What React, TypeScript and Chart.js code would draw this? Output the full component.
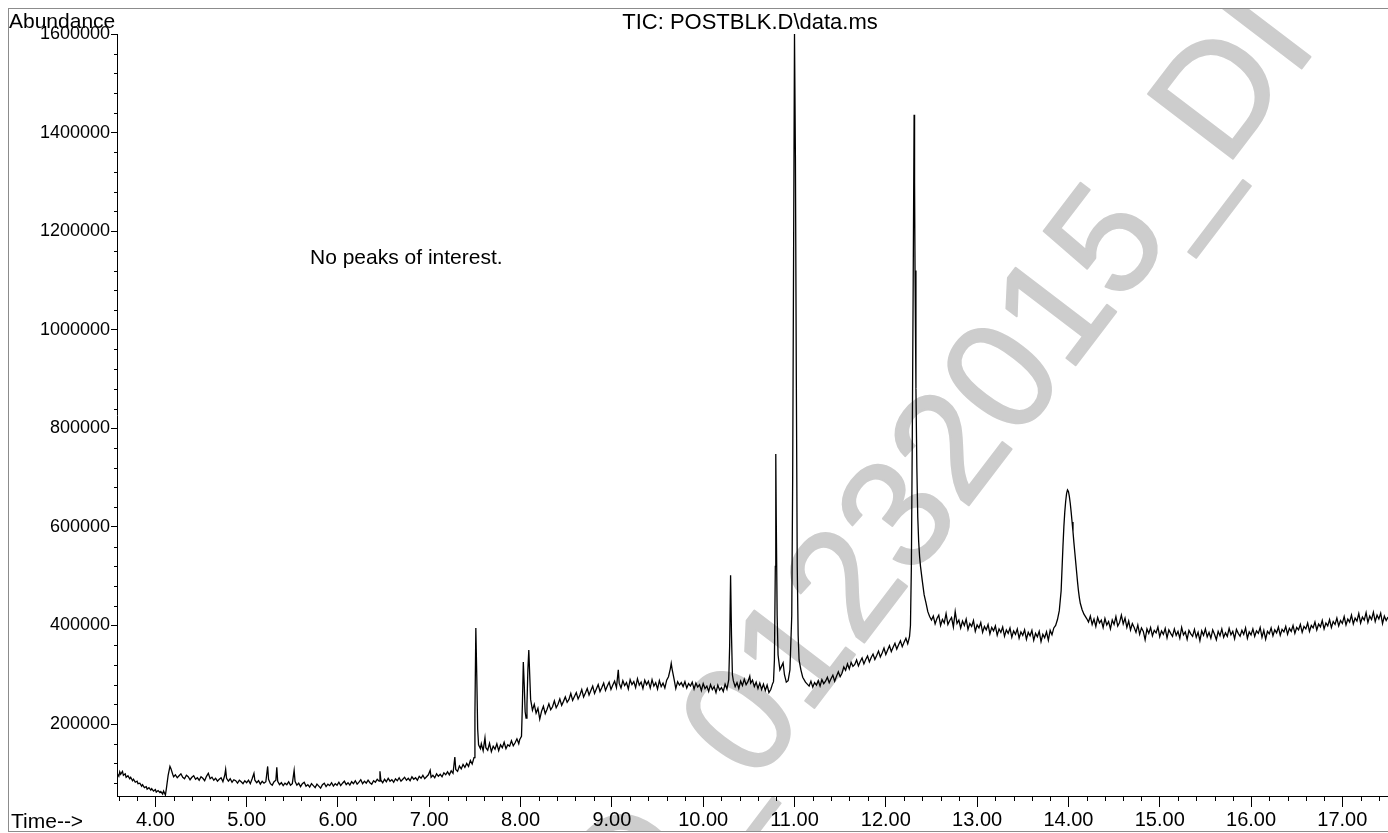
import React, { useEffect, useRef } from "react";
import { Chart, registerables } from "chart.js";

Chart.register(...registerables);

const titleText = "TIC: POSTBLK.D\\data.ms";
const yAxisLabel = "Abundance";
const xAxisLabel = "Time-->";
const noteText = "No peaks of interest.";
const watermarkPrefix = "D_";
const watermarkText = "D_01232015_DI";

const xMajorTicks = [4, 5, 6, 7, 8, 9, 10, 11, 12, 13, 14, 15, 16, 17];
const xMinorTicks = [
  3.6, 3.8, 4.2, 4.4, 4.6, 4.8, 5.2, 5.4, 5.6, 5.8, 6.2, 6.4, 6.6, 6.8, 7.2, 7.4, 7.6, 7.8,
  8.2, 8.4, 8.6, 8.8, 9.2, 9.4, 9.6, 9.8, 10.2, 10.4, 10.6, 10.8, 11.2, 11.4, 11.6, 11.8,
  12.2, 12.4, 12.6, 12.8, 13.2, 13.4, 13.6, 13.8, 14.2, 14.4, 14.6, 14.8, 15.2, 15.4, 15.6, 15.8,
  16.2, 16.4, 16.6, 16.8, 17.2, 17.4,
];
const yMajorTicks = [200000, 400000, 600000, 800000, 1000000, 1200000, 1400000, 1600000];
const yMinorTicks = [
  80000, 120000, 160000, 240000, 280000, 320000, 360000, 440000, 480000, 520000, 560000,
  640000, 680000, 720000, 760000, 840000, 880000, 920000, 960000, 1040000, 1080000, 1120000, 1160000,
  1240000, 1280000, 1320000, 1360000, 1440000, 1480000, 1520000, 1560000,
];

// [retention time (min), abundance]
const segStart: [number, number][] = [
  [3.58, 100000], [3.60, 94000], [3.61, 103000], [3.62, 98000], [3.64, 104000], [3.65, 96000],
  [3.67, 99000], [3.68, 92000], [3.70, 95000], [3.72, 89000], [3.73, 92000], [3.75, 85000],
  [3.76, 88000], [3.78, 82000], [3.80, 84000], [3.81, 79000], [3.83, 80000], [3.85, 74000],
  [3.86, 77000], [3.88, 71000], [3.90, 73000], [3.91, 68000], [3.93, 71000], [3.95, 66000],
  [3.96, 69000], [3.98, 64000], [4.00, 67000], [4.01, 62000], [4.03, 65000], [4.05, 61000],
  [4.06, 63000], [4.08, 58000], [4.09, 64000], [4.11, 56000], [4.12, 68000], [4.14, 96000],
  [4.16, 114000], [4.17, 110000], [4.19, 98000], [4.20, 93000],
];
const segEarly: [number, number][] = [
  [4.22, 97000], [4.24, 91000], [4.26, 95000], [4.28, 99000], [4.30, 92000], [4.32, 89000],
  [4.34, 96000], [4.36, 93000], [4.38, 87000], [4.40, 92000], [4.42, 95000], [4.44, 88000],
  [4.46, 91000], [4.48, 86000], [4.50, 93000], [4.52, 90000], [4.54, 85000], [4.56, 94000],
  [4.58, 100000], [4.60, 89000], [4.62, 92000], [4.64, 86000], [4.66, 90000], [4.68, 84000],
  [4.70, 88000], [4.72, 91000], [4.74, 83000], [4.76, 96000], [4.77, 108000], [4.78, 90000],
  [4.80, 84000], [4.82, 89000], [4.84, 82000], [4.86, 87000], [4.88, 85000], [4.90, 80000],
  [4.92, 86000], [4.94, 83000], [4.96, 79000], [4.98, 85000], [5.00, 81000], [5.02, 86000],
  [5.04, 79000], [5.06, 89000], [5.08, 100000], [5.09, 86000], [5.11, 81000], [5.13, 85000],
  [5.15, 78000], [5.17, 84000], [5.19, 80000], [5.21, 83000], [5.23, 114000], [5.24, 88000],
  [5.26, 79000], [5.28, 76000], [5.30, 83000], [5.32, 86000], [5.33, 112000], [5.34, 84000],
  [5.36, 77000], [5.38, 81000], [5.40, 75000], [5.42, 80000], [5.44, 77000], [5.46, 83000],
  [5.48, 76000], [5.50, 79000], [5.52, 106000], [5.53, 84000], [5.55, 76000], [5.57, 80000],
  [5.59, 73000], [5.61, 79000], [5.63, 82000], [5.65, 74000], [5.67, 77000], [5.69, 72000],
  [5.71, 79000], [5.73, 75000], [5.75, 71000], [5.77, 78000], [5.79, 74000], [5.81, 70000],
  [5.83, 77000], [5.85, 80000], [5.87, 73000], [5.89, 78000], [5.91, 75000], [5.93, 81000],
  [5.95, 74000], [5.97, 79000], [5.99, 76000], [6.01, 82000], [6.03, 75000], [6.05, 80000],
  [6.07, 84000], [6.09, 77000], [6.11, 81000], [6.13, 76000], [6.15, 83000], [6.17, 79000],
  [6.19, 85000], [6.21, 78000], [6.23, 82000], [6.25, 87000], [6.27, 79000], [6.29, 84000],
  [6.31, 80000], [6.33, 86000], [6.35, 81000], [6.37, 78000], [6.39, 85000], [6.41, 82000],
  [6.43, 88000], [6.45, 84000], [6.46, 104000], [6.47, 86000], [6.49, 81000], [6.51, 88000],
  [6.53, 83000], [6.55, 90000], [6.57, 84000], [6.59, 87000], [6.61, 82000], [6.63, 89000],
  [6.65, 85000], [6.67, 91000], [6.69, 84000], [6.71, 88000], [6.73, 92000], [6.75, 86000],
  [6.77, 90000], [6.79, 85000], [6.81, 93000], [6.83, 88000], [6.85, 91000], [6.87, 86000],
  [6.89, 94000], [6.91, 90000], [6.93, 96000], [6.95, 89000], [6.97, 93000], [6.99, 97000],
  [7.01, 106000], [7.02, 92000], [7.04, 96000], [7.06, 91000], [7.08, 99000], [7.10, 94000],
  [7.12, 98000], [7.14, 93000], [7.16, 101000], [7.18, 97000],
];
const seg750: [number, number][] = [
  [7.20, 103000], [7.22, 97000], [7.24, 105000], [7.26, 100000], [7.28, 133000], [7.29, 108000],
  [7.31, 104000], [7.33, 115000], [7.35, 109000], [7.37, 118000], [7.39, 112000], [7.41, 120000],
  [7.43, 114000], [7.45, 126000], [7.47, 119000], [7.49, 132000], [7.50, 220000], [7.51, 395000],
  [7.52, 300000], [7.53, 190000], [7.54, 158000], [7.56, 150000], [7.57, 160000], [7.59, 146000],
  [7.61, 172000], [7.62, 152000], [7.64, 147000], [7.66, 161000], [7.68, 144000], [7.70, 155000],
  [7.72, 149000], [7.74, 160000], [7.76, 146000], [7.78, 158000], [7.80, 152000], [7.82, 163000],
  [7.84, 150000], [7.86, 158000], [7.88, 155000], [7.90, 166000], [7.92, 156000], [7.94, 162000],
  [7.96, 170000], [7.98, 160000], [7.99, 168000],
];
const seg805: [number, number][] = [
  [8.01, 175000], [8.02, 240000], [8.03, 326000], [8.04, 280000], [8.05, 225000], [8.06, 212000],
  [8.07, 240000], [8.08, 310000], [8.09, 350000], [8.10, 300000], [8.11, 250000], [8.13, 228000],
  [8.15, 240000], [8.17, 222000], [8.19, 232000], [8.21, 210000],
];
const segMid: [number, number][] = [
  [8.23, 226000], [8.25, 236000], [8.27, 221000], [8.29, 230000], [8.31, 241000], [8.33, 229000],
  [8.35, 235000], [8.37, 247000], [8.39, 233000], [8.41, 240000], [8.43, 251000], [8.45, 238000],
  [8.47, 246000], [8.49, 255000], [8.51, 244000], [8.53, 250000], [8.55, 262000], [8.57, 248000],
  [8.59, 256000], [8.61, 264000], [8.63, 251000], [8.65, 259000], [8.67, 270000], [8.69, 255000],
  [8.71, 263000], [8.73, 272000], [8.75, 259000], [8.77, 268000], [8.79, 277000], [8.81, 262000],
  [8.83, 271000], [8.85, 280000], [8.87, 266000], [8.89, 274000], [8.91, 283000], [8.93, 268000],
  [8.95, 277000], [8.97, 285000], [8.99, 270000], [9.01, 279000], [9.03, 287000], [9.05, 274000],
  [9.07, 310000], [9.08, 283000], [9.10, 273000], [9.12, 288000], [9.14, 278000], [9.16, 284000],
  [9.18, 271000], [9.20, 290000], [9.22, 280000], [9.24, 286000], [9.26, 274000], [9.28, 292000],
  [9.30, 279000], [9.32, 285000], [9.34, 272000], [9.36, 289000], [9.38, 280000], [9.40, 287000],
  [9.42, 273000], [9.44, 290000], [9.46, 277000], [9.48, 284000], [9.50, 271000], [9.52, 288000],
  [9.54, 276000], [9.56, 283000], [9.58, 273000], [9.60, 289000], [9.62, 296000], [9.64, 312000],
  [9.65, 323000], [9.66, 311000], [9.68, 292000], [9.70, 272000], [9.72, 286000], [9.74, 279000],
  [9.76, 284000], [9.78, 276000], [9.80, 286000], [9.82, 273000], [9.84, 282000], [9.86, 277000],
  [9.88, 285000], [9.90, 271000], [9.92, 283000], [9.94, 275000], [9.96, 280000], [9.98, 268000],
  [10.00, 282000], [10.02, 272000], [10.04, 277000], [10.06, 266000], [10.08, 280000], [10.10, 270000],
  [10.12, 276000], [10.14, 264000], [10.16, 279000], [10.18, 269000], [10.20, 274000], [10.22, 266000],
  [10.24, 281000], [10.26, 271000],
];
const seg1030: [number, number][] = [
  [10.28, 290000], [10.29, 360000], [10.30, 502000], [10.31, 380000], [10.32, 300000], [10.33, 288000],
  [10.35, 276000], [10.37, 284000], [10.39, 272000], [10.41, 287000], [10.43, 278000], [10.45, 291000],
  [10.47, 280000], [10.49, 286000], [10.51, 297000], [10.52, 283000], [10.54, 289000], [10.56, 276000],
  [10.58, 285000], [10.60, 272000], [10.62, 283000], [10.64, 270000], [10.66, 281000], [10.68, 268000],
  [10.70, 279000], [10.72, 264000], [10.74, 270000], [10.76, 282000], [10.77, 286000],
];
const seg1100: [number, number][] = [
  [10.78, 330000], [10.79, 520000], [10.795, 748000], [10.80, 620000], [10.81, 420000], [10.82, 340000],
  [10.84, 310000], [10.86, 318000], [10.875, 324000], [10.89, 300000], [10.91, 285000], [10.93, 288000],
  [10.95, 310000], [10.97, 420000], [10.98, 700000], [10.99, 1150000], [11.00, 1600000], [11.01, 1350000],
  [11.02, 900000], [11.03, 520000], [11.04, 380000], [11.05, 330000], [11.07, 310000], [11.09, 295000],
  [11.12, 285000],
];
const segRise: [number, number][] = [
  [11.14, 281000], [11.16, 277000], [11.18, 287000], [11.20, 275000], [11.22, 284000], [11.24, 279000],
  [11.26, 288000], [11.28, 277000], [11.30, 290000], [11.32, 282000], [11.34, 287000], [11.36, 295000],
  [11.38, 284000], [11.40, 292000], [11.42, 299000], [11.44, 287000], [11.46, 297000], [11.48, 306000],
  [11.50, 296000], [11.52, 303000], [11.54, 316000], [11.56, 309000], [11.58, 322000], [11.60, 312000],
  [11.62, 325000], [11.64, 317000], [11.66, 321000], [11.68, 330000], [11.70, 318000], [11.72, 327000],
  [11.74, 334000], [11.76, 322000], [11.78, 331000], [11.80, 338000], [11.82, 326000], [11.84, 335000],
  [11.86, 342000], [11.88, 331000], [11.90, 339000], [11.92, 348000], [11.94, 336000], [11.96, 344000],
  [11.98, 354000], [12.00, 341000], [12.02, 350000], [12.04, 359000], [12.06, 347000], [12.08, 356000],
  [12.10, 364000], [12.12, 352000], [12.14, 361000], [12.16, 369000], [12.18, 357000], [12.20, 366000],
  [12.22, 374000], [12.24, 363000], [12.25, 370000],
];
const seg1230: [number, number][] = [
  [12.26, 378000], [12.27, 400000], [12.28, 520000], [12.29, 780000], [12.30, 1100000], [12.31, 1436000],
  [12.315, 1300000], [12.32, 1120000], [12.33, 880000], [12.34, 720000], [12.35, 620000], [12.36, 570000],
  [12.37, 540000], [12.38, 520000], [12.40, 490000], [12.42, 462000], [12.44, 446000], [12.46, 428000],
  [12.48, 418000], [12.50, 411000],
];
const segLate: [number, number][] = [
  [12.52, 419000], [12.54, 403000], [12.56, 414000], [12.58, 421000], [12.60, 400000], [12.62, 412000],
  [12.64, 405000], [12.66, 424000], [12.68, 402000], [12.70, 410000], [12.72, 416000], [12.74, 397000],
  [12.76, 428000], [12.78, 404000], [12.80, 411000], [12.82, 395000], [12.84, 409000], [12.86, 400000],
  [12.88, 413000], [12.90, 392000], [12.92, 404000], [12.94, 398000], [12.96, 410000], [12.98, 388000],
  [13.00, 401000], [13.02, 395000], [13.04, 406000], [13.06, 386000], [13.08, 398000], [13.10, 391000],
  [13.12, 402000], [13.14, 383000], [13.16, 396000], [13.18, 389000], [13.20, 399000], [13.22, 380000],
  [13.24, 393000], [13.26, 386000], [13.28, 397000], [13.30, 378000], [13.32, 391000], [13.34, 384000],
  [13.36, 395000], [13.38, 376000], [13.40, 389000], [13.42, 382000], [13.44, 393000], [13.46, 374000],
  [13.48, 387000], [13.50, 380000], [13.52, 391000], [13.54, 372000], [13.56, 386000], [13.58, 379000],
  [13.60, 390000], [13.62, 370000], [13.64, 384000], [13.66, 377000], [13.68, 388000], [13.70, 367000],
  [13.72, 382000], [13.74, 375000], [13.76, 387000], [13.78, 370000], [13.80, 390000], [13.82, 381000],
  [13.84, 395000],
];
const seg1400: [number, number][] = [
  [13.86, 400000], [13.88, 412000], [13.90, 430000], [13.92, 470000], [13.94, 560000], [13.95, 600000],
  [13.96, 630000], [13.97, 652000], [13.98, 668000], [13.99, 675000], [14.00, 672000], [14.01, 662000],
  [14.02, 648000], [14.03, 630000], [14.04, 610000], [14.05, 590000], [14.06, 568000], [14.07, 548000],
  [14.08, 528000], [14.09, 508000], [14.10, 488000], [14.11, 470000], [14.12, 456000], [14.13, 445000],
  [14.15, 432000], [14.17, 423000], [14.20, 414000],
];
const segEnd: [number, number][] = [
  [14.22, 407000], [14.24, 419000], [14.26, 402000], [14.28, 413000], [14.30, 398000], [14.32, 416000],
  [14.34, 405000], [14.36, 411000], [14.38, 396000], [14.40, 414000], [14.42, 401000], [14.44, 408000],
  [14.46, 393000], [14.48, 411000], [14.50, 402000], [14.52, 418000], [14.54, 399000], [14.56, 406000],
  [14.58, 421000], [14.60, 403000], [14.62, 415000], [14.64, 396000], [14.66, 409000], [14.68, 391000],
  [14.70, 404000], [14.72, 396000], [14.74, 386000], [14.76, 401000], [14.78, 382000], [14.80, 395000],
  [14.82, 388000], [14.84, 371000], [14.86, 393000], [14.88, 384000], [14.90, 396000], [14.92, 379000],
  [14.94, 390000], [14.96, 385000], [14.98, 397000], [15.00, 377000], [15.02, 389000], [15.04, 382000],
  [15.06, 394000], [15.08, 375000], [15.10, 391000], [15.12, 384000], [15.14, 378000], [15.16, 393000],
  [15.18, 380000], [15.20, 388000], [15.22, 374000], [15.24, 396000], [15.26, 381000], [15.28, 387000],
  [15.30, 372000], [15.32, 390000], [15.34, 383000], [15.36, 378000], [15.38, 392000], [15.40, 376000],
  [15.42, 386000], [15.44, 369000], [15.46, 389000], [15.48, 380000], [15.50, 393000], [15.52, 377000],
  [15.54, 386000], [15.56, 374000], [15.58, 391000], [15.60, 382000], [15.62, 371000], [15.64, 388000],
  [15.66, 379000], [15.68, 393000], [15.70, 376000], [15.72, 385000], [15.74, 378000], [15.76, 394000],
  [15.78, 381000], [15.80, 388000], [15.82, 373000], [15.84, 392000], [15.86, 384000], [15.88, 378000],
  [15.90, 390000], [15.92, 382000], [15.94, 395000], [15.96, 374000], [15.98, 387000], [16.00, 381000],
  [16.02, 393000], [16.04, 378000], [16.06, 389000], [16.08, 384000], [16.10, 396000], [16.12, 376000],
  [16.14, 390000], [16.16, 372000], [16.18, 388000], [16.20, 383000], [16.22, 395000], [16.24, 379000],
  [16.26, 391000], [16.28, 385000], [16.30, 397000], [16.32, 380000], [16.34, 392000], [16.36, 387000],
  [16.38, 398000], [16.40, 382000], [16.42, 394000], [16.44, 388000], [16.46, 400000], [16.48, 384000],
  [16.50, 396000], [16.52, 391000], [16.54, 402000], [16.56, 386000], [16.58, 398000], [16.60, 393000],
  [16.62, 405000], [16.64, 388000], [16.66, 400000], [16.68, 395000], [16.70, 407000], [16.72, 391000],
  [16.74, 403000], [16.76, 397000], [16.78, 410000], [16.80, 393000], [16.82, 405000], [16.84, 399000],
  [16.86, 412000], [16.88, 396000], [16.90, 408000], [16.92, 402000], [16.94, 415000], [16.96, 399000],
  [16.98, 410000], [17.00, 404000], [17.02, 418000], [17.04, 401000], [17.06, 413000], [17.08, 407000],
  [17.10, 421000], [17.12, 403000], [17.14, 415000], [17.16, 409000], [17.18, 424000], [17.20, 405000],
  [17.22, 417000], [17.24, 411000], [17.26, 426000], [17.28, 406000], [17.30, 419000], [17.32, 412000],
  [17.34, 427000], [17.36, 408000], [17.38, 421000], [17.40, 413000], [17.42, 425000], [17.44, 404000],
  [17.46, 419000], [17.48, 410000], [17.50, 417000],
];

const FONT = '"Liberation Sans", Arial, Helvetica, sans-serif';

const decorPlugin = {
  id: "decor",
  beforeDraw(chart: any) {
    const ctx = chart.ctx;
    ctx.save();
    ctx.translate(728, 709);
    ctx.rotate((-52.7 * Math.PI) / 180);
    const size = 155;
    ctx.font = `${size}px ${FONT}`;
    ctx.fillStyle = "#cdcdcd";
    ctx.strokeStyle = "#cdcdcd";
    ctx.lineWidth = 2;
    ctx.lineJoin = "round";
    ctx.textBaseline = "alphabetic";
    ctx.textAlign = "left";
    const startX = -(ctx.measureText(watermarkPrefix).width + ctx.measureText("0").width / 2);
    const baseY = 0.358 * size;
    ctx.fillText(watermarkText, startX, baseY);
    ctx.strokeText(watermarkText, startX, baseY);
    ctx.restore();
  },
  afterDraw(chart: any) {
    const ctx = chart.ctx;
    const xs = chart.scales.x;
    const ys = chart.scales.y;
    const area = chart.chartArea;
    ctx.save();
    ctx.strokeStyle = "#000";
    ctx.lineWidth = 1;
    ctx.beginPath();
    for (const v of xMinorTicks) {
      const px = Math.round(xs.getPixelForValue(v)) + 0.5;
      ctx.moveTo(px, area.bottom);
      ctx.lineTo(px, area.bottom + 5);
    }
    for (const v of yMinorTicks) {
      const py = Math.round(ys.getPixelForValue(v)) + 0.5;
      ctx.moveTo(area.left - 3, py);
      ctx.lineTo(area.left, py);
    }
    ctx.stroke();

    ctx.fillStyle = "#000";
    ctx.textBaseline = "alphabetic";
    ctx.font = `21px ${FONT}`;
    ctx.textAlign = "left";
    ctx.fillText(yAxisLabel, 0, 19);
    ctx.fillText(xAxisLabel, 2, 819);
    ctx.fillText(noteText, 301, 255);
    ctx.font = `22px ${FONT}`;
    ctx.textAlign = "center";
    ctx.fillText(titleText, 741, 20);
    ctx.restore();
  },
};

export default function App() {
  const canvasRef = useRef<HTMLCanvasElement | null>(null);

  useEffect(() => {
    const canvas = canvasRef.current;
    if (!canvas) return;
    const points = [
      ...segStart, ...segEarly, ...seg750, ...seg805, ...segMid, ...seg1030,
      ...seg1100, ...segRise, ...seg1230, ...segLate, ...seg1400, ...segEnd,
    ].map(([x, y]) => ({ x, y }));

    const chart = new Chart(canvas, {
      type: "line",
      data: {
        datasets: [
          {
            data: points,
            borderColor: "#000",
            borderWidth: 1.3,
            pointRadius: 0,
            fill: false,
            tension: 0,
          },
        ],
      },
      options: {
        animation: false,
        responsive: false,
        devicePixelRatio: 1,
        events: [],
        layout: { padding: { top: 25, left: 0, right: 0, bottom: 0 } },
        plugins: {
          legend: { display: false },
          tooltip: { enabled: false },
          title: { display: false },
        },
        scales: {
          x: {
            type: "linear",
            min: 3.58,
            max: 17.5,
            afterBuildTicks: (scale: any) => {
              scale.ticks = [...xMinorTicks, ...xMajorTicks]
                .sort((a, b) => a - b)
                .map((v) => ({ value: v }));
            },
            afterFit: (scale: any) => {
              scale.height = 35;
            },
            grid: {
              drawOnChartArea: false,
              drawTicks: true,
              tickLength: 11,
              tickWidth: 1,
              tickColor: (c: any) =>
                c.tick && xMajorTicks.includes(c.tick.value) ? "#000" : "rgba(0,0,0,0)",
            },
            border: { display: true, color: "#000", width: 1 },
            ticks: {
              autoSkip: false,
              maxRotation: 0,
              minRotation: 0,
              padding: 1,
              color: "#000",
              font: { family: FONT, size: 20 },
              callback: (value: any) =>
                xMajorTicks.includes(Number(value)) ? Number(value).toFixed(2) : "",
            },
          },
          y: {
            type: "linear",
            min: 54000,
            max: 1600000,
            afterBuildTicks: (scale: any) => {
              scale.ticks = [...yMinorTicks, ...yMajorTicks]
                .sort((a, b) => a - b)
                .map((v) => ({ value: v }));
            },
            afterFit: (scale: any) => {
              scale.width = 108;
            },
            grid: {
              drawOnChartArea: false,
              drawTicks: true,
              tickLength: 6,
              tickWidth: 1,
              tickColor: (c: any) =>
                c.tick && yMajorTicks.includes(c.tick.value) ? "#000" : "rgba(0,0,0,0)",
            },
            border: { display: true, color: "#000", width: 1 },
            ticks: {
              autoSkip: false,
              padding: 1,
              color: "#000",
              font: { family: FONT, size: 18 },
              callback: (value: any) =>
                yMajorTicks.includes(Number(value)) ? String(value) : "",
            },
          },
        },
      },
      plugins: [decorPlugin],
    } as any);

    return () => {
      chart.destroy();
    };
  }, []);

  return (
    <div
      style={{
        position: "fixed",
        left: 8,
        top: 8,
        width: 1380,
        height: 822,
        borderTop: "1px solid #8c8c8c",
        borderLeft: "1px solid #8c8c8c",
        borderBottom: "1px solid #8c8c8c",
        background: "#fff",
      }}
    >
      <canvas ref={canvasRef} width={1379} height={822} style={{ display: "block", width: 1379, height: 822 }} />
    </div>
  );
}
